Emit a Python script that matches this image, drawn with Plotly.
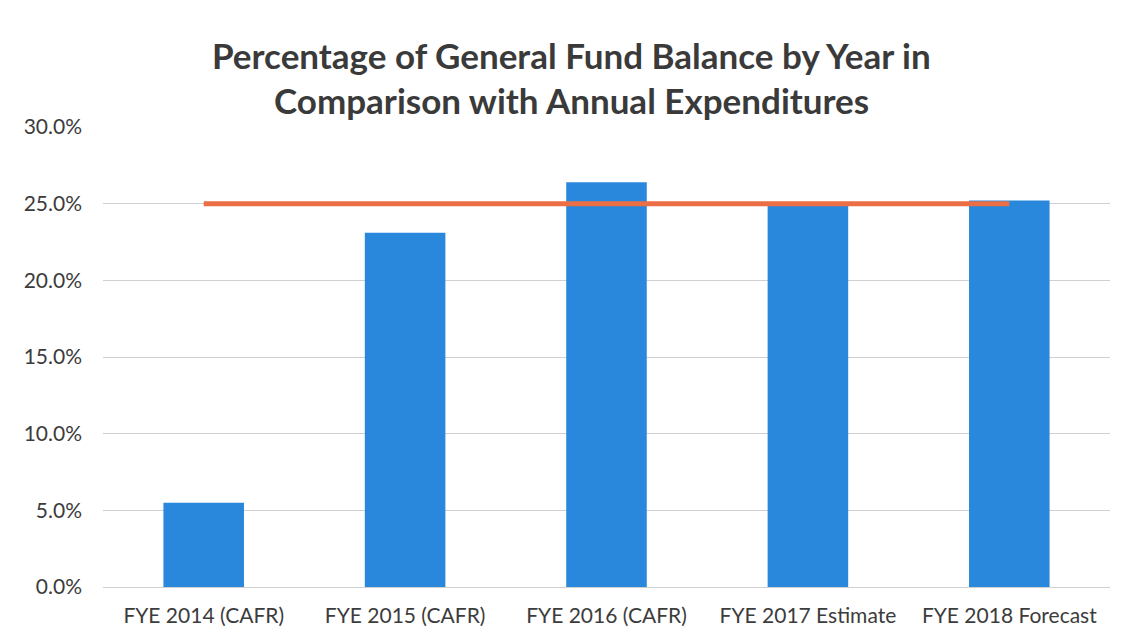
import plotly.graph_objects as go

# Fund balance as a share of annual expenditures
categories = ["FYE 2014 (CAFR)", "FYE 2015 (CAFR)", "FYE 2016 (CAFR)",
              "FYE 2017 Estimate", "FYE 2018 Forecast"]
balance_pct = [0.055, 0.231, 0.264, 0.250, 0.252]
target_pct = [0.25, 0.25, 0.25, 0.25, 0.25]
y_ticks = [0.0, 0.05, 0.10, 0.15, 0.20, 0.25, 0.30]
title_lines = ["Percentage of General Fund Balance by Year in",
               "Comparison with Annual Expenditures"]

W, H = 1128, 636
L, R, T, B = 103, 18, 127, 49
plot_w, plot_h = W - L - R, H - T - B

fig = go.Figure()
fig.add_trace(go.Bar(
    x=categories, y=balance_pct,
    marker=dict(color="#2A88DC", line=dict(width=0)),
    showlegend=False,
))
fig.add_trace(go.Scatter(
    x=categories, y=target_pct, mode="lines",
    line=dict(color="#EC6E45", width=5),
    showlegend=False,
))

# two-line title placed above the plot area
for line, yc in zip(title_lines, [55, 100]):
    fig.add_annotation(
        text=f"<b>{line}</b>", showarrow=False,
        xref="paper", yref="paper",
        x=(571 - L) / plot_w, y=(H - B - yc) / plot_h,
        xanchor="center", yanchor="middle",
        font=dict(family="Lato, Open Sans, sans-serif", size=35, color="#3a3a3a"),
    )

fig.update_layout(
    width=W, height=H,
    margin=dict(l=L, r=R, t=T, b=B),
    paper_bgcolor="white", plot_bgcolor="white",
    bargap=0.6,
    font=dict(family="Lato, Open Sans, sans-serif", color="#3c3c3c"),
    xaxis=dict(
        tickfont=dict(size=21, color="#3c3c3c"),
        showgrid=False, showline=True, linecolor="#d0d0d0", linewidth=1,
        ticks="", ticklabelstandoff=10, automargin=False,
    ),
    yaxis=dict(
        range=[0, 0.30], tickvals=y_ticks, tickformat=".1%",
        tickfont=dict(size=21, color="#3c3c3c"),
        showgrid=True, gridcolor="#d0d0d0", gridwidth=1,
        zeroline=False, showline=False, ticks="", ticklabelstandoff=20,
        automargin=False,
    ),
)

fig.write_html("out.html")
